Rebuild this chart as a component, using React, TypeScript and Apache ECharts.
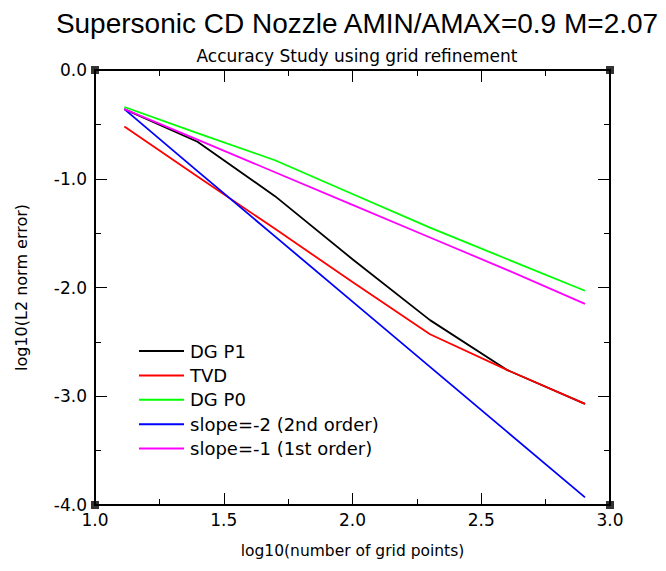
import React, { useEffect, useRef } from "react";
import * as echarts from "echarts";

const logN = [1.114, 1.398, 1.699, 2.0, 2.301, 2.602, 2.903];
const dgP1 = [-0.36, -0.66, -1.16, -1.74, -2.3, -2.76, -3.07];
const tvd = [-0.52, -0.98, -1.46, -1.95, -2.43, -2.76, -3.07];
const dgP0 = [-0.34, -0.58, -0.83, -1.14, -1.45, -1.74, -2.03];
const slope2 = [-0.36, -0.93, -1.53, -2.13, -2.73, -3.33, -3.93];
const slope1 = [-0.36, -0.64, -0.94, -1.24, -1.54, -1.84, -2.15];
const seriesNames = ["DG P1", "TVD", "DG P0", "slope=-2 (2nd order)", "slope=-1 (1st order)"];
const seriesColors = ["#000000", "#ff0000", "#00ff00", "#0000ff", "#ff00ff"];
const corners = [[1, 0], [3, 0], [1, -4], [3, -4]];

const TFONT = "Liberation Sans";
const FONT = "DejaVu Sans";

export default function App() {
  const ref = useRef<HTMLDivElement>(null);
  useEffect(() => {
    if (!ref.current) return;
    const chart = echarts.init(ref.current, null, { renderer: "svg" });
    const values = [dgP1, tvd, dgP0, slope2, slope1];
    const lineSeries = values.map((vals, i) => ({
      name: seriesNames[i],
      type: "line",
      data: logN.map((x, j) => [x, vals[j]]),
      symbol: "none",
      lineStyle: { color: seriesColors[i], width: 1.8 },
      itemStyle: { color: seriesColors[i] },
      z: 3 + i,
    }));
    const tick = { show: true, inside: true, length: 12, lineStyle: { color: "#000", width: 1 } };
    const minor = { show: true, splitNumber: 2, length: 6, lineStyle: { color: "#000", width: 1 } };
    const axisCommon = {
      axisLine: { show: true, onZero: false, lineStyle: { color: "#000", width: 2 } },
      splitLine: { show: false },
      axisTick: tick,
      minorTick: minor,
    };
    chart.setOption({
      animation: false,
      backgroundColor: "#fff",
      title: [
        {
          text: "Supersonic CD Nozzle AMIN/AMAX=0.9 M=2.07",
          left: 352,
          top: 4,
          textAlign: "center",
          textStyle: { fontFamily: TFONT, fontWeight: "normal", fontSize: 28, color: "#000" },
        },
        {
          text: "Accuracy Study using grid refinement",
          left: 352,
          top: 42,
          textAlign: "center",
          textStyle: { fontFamily: FONT, fontWeight: "normal", fontSize: 17, color: "#000" },
        },
      ],
      legend: {
        orient: "vertical",
        left: 133,
        top: 337,
        itemWidth: 45,
        itemHeight: 14,
        itemGap: 6.4,
        itemStyle: { opacity: 0 },
        data: seriesNames,
        textStyle: { fontFamily: FONT, fontSize: 18, lineHeight: 18, color: "#000", padding: [0, 0, 0, 1] },
      },
      grid: { left: 95, right: 56, top: 70, bottom: 66 },
      xAxis: [
        {
          ...axisCommon,
          type: "value",
          min: 1,
          max: 3,
          interval: 0.5,
          name: "log10(number of grid points)",
          nameLocation: "middle",
          nameGap: 38,
          nameTextStyle: { fontFamily: FONT, fontSize: 15.5, color: "#000" },
          axisLabel: {
            fontFamily: FONT,
            fontSize: 17,
            color: "#000",
            margin: 6,
            formatter: (v: number) => v.toFixed(1),
          },
        },
        {
          ...axisCommon,
          type: "value",
          position: "top",
          min: 1,
          max: 3,
          interval: 0.5,
          axisLabel: { show: false },
        },
      ],
      yAxis: [
        {
          ...axisCommon,
          type: "value",
          min: -4,
          max: 0,
          interval: 1,
          name: "log10(L2 norm error)",
          nameLocation: "middle",
          nameGap: 66,
          nameTextStyle: { fontFamily: FONT, fontSize: 16, color: "#000" },
          axisLabel: {
            fontFamily: FONT,
            fontSize: 17,
            color: "#000",
            margin: 8,
            formatter: (v: number) => v.toFixed(1),
          },
        },
        {
          ...axisCommon,
          type: "value",
          position: "right",
          min: -4,
          max: 0,
          interval: 1,
          axisLabel: { show: false },
        },
      ],
      series: [
        ...lineSeries,
        {
          name: "corners",
          type: "scatter",
          data: corners,
          symbol: "rect",
          symbolSize: 8,
          clip: false,
          itemStyle: { color: "#000" },
          z: 10,
          silent: true,
        },
      ],
    });
    return () => chart.dispose();
  }, []);
  return <div ref={ref} style={{ width: 666, height: 571, position: "absolute", left: 0, top: 0 }} />;
}
